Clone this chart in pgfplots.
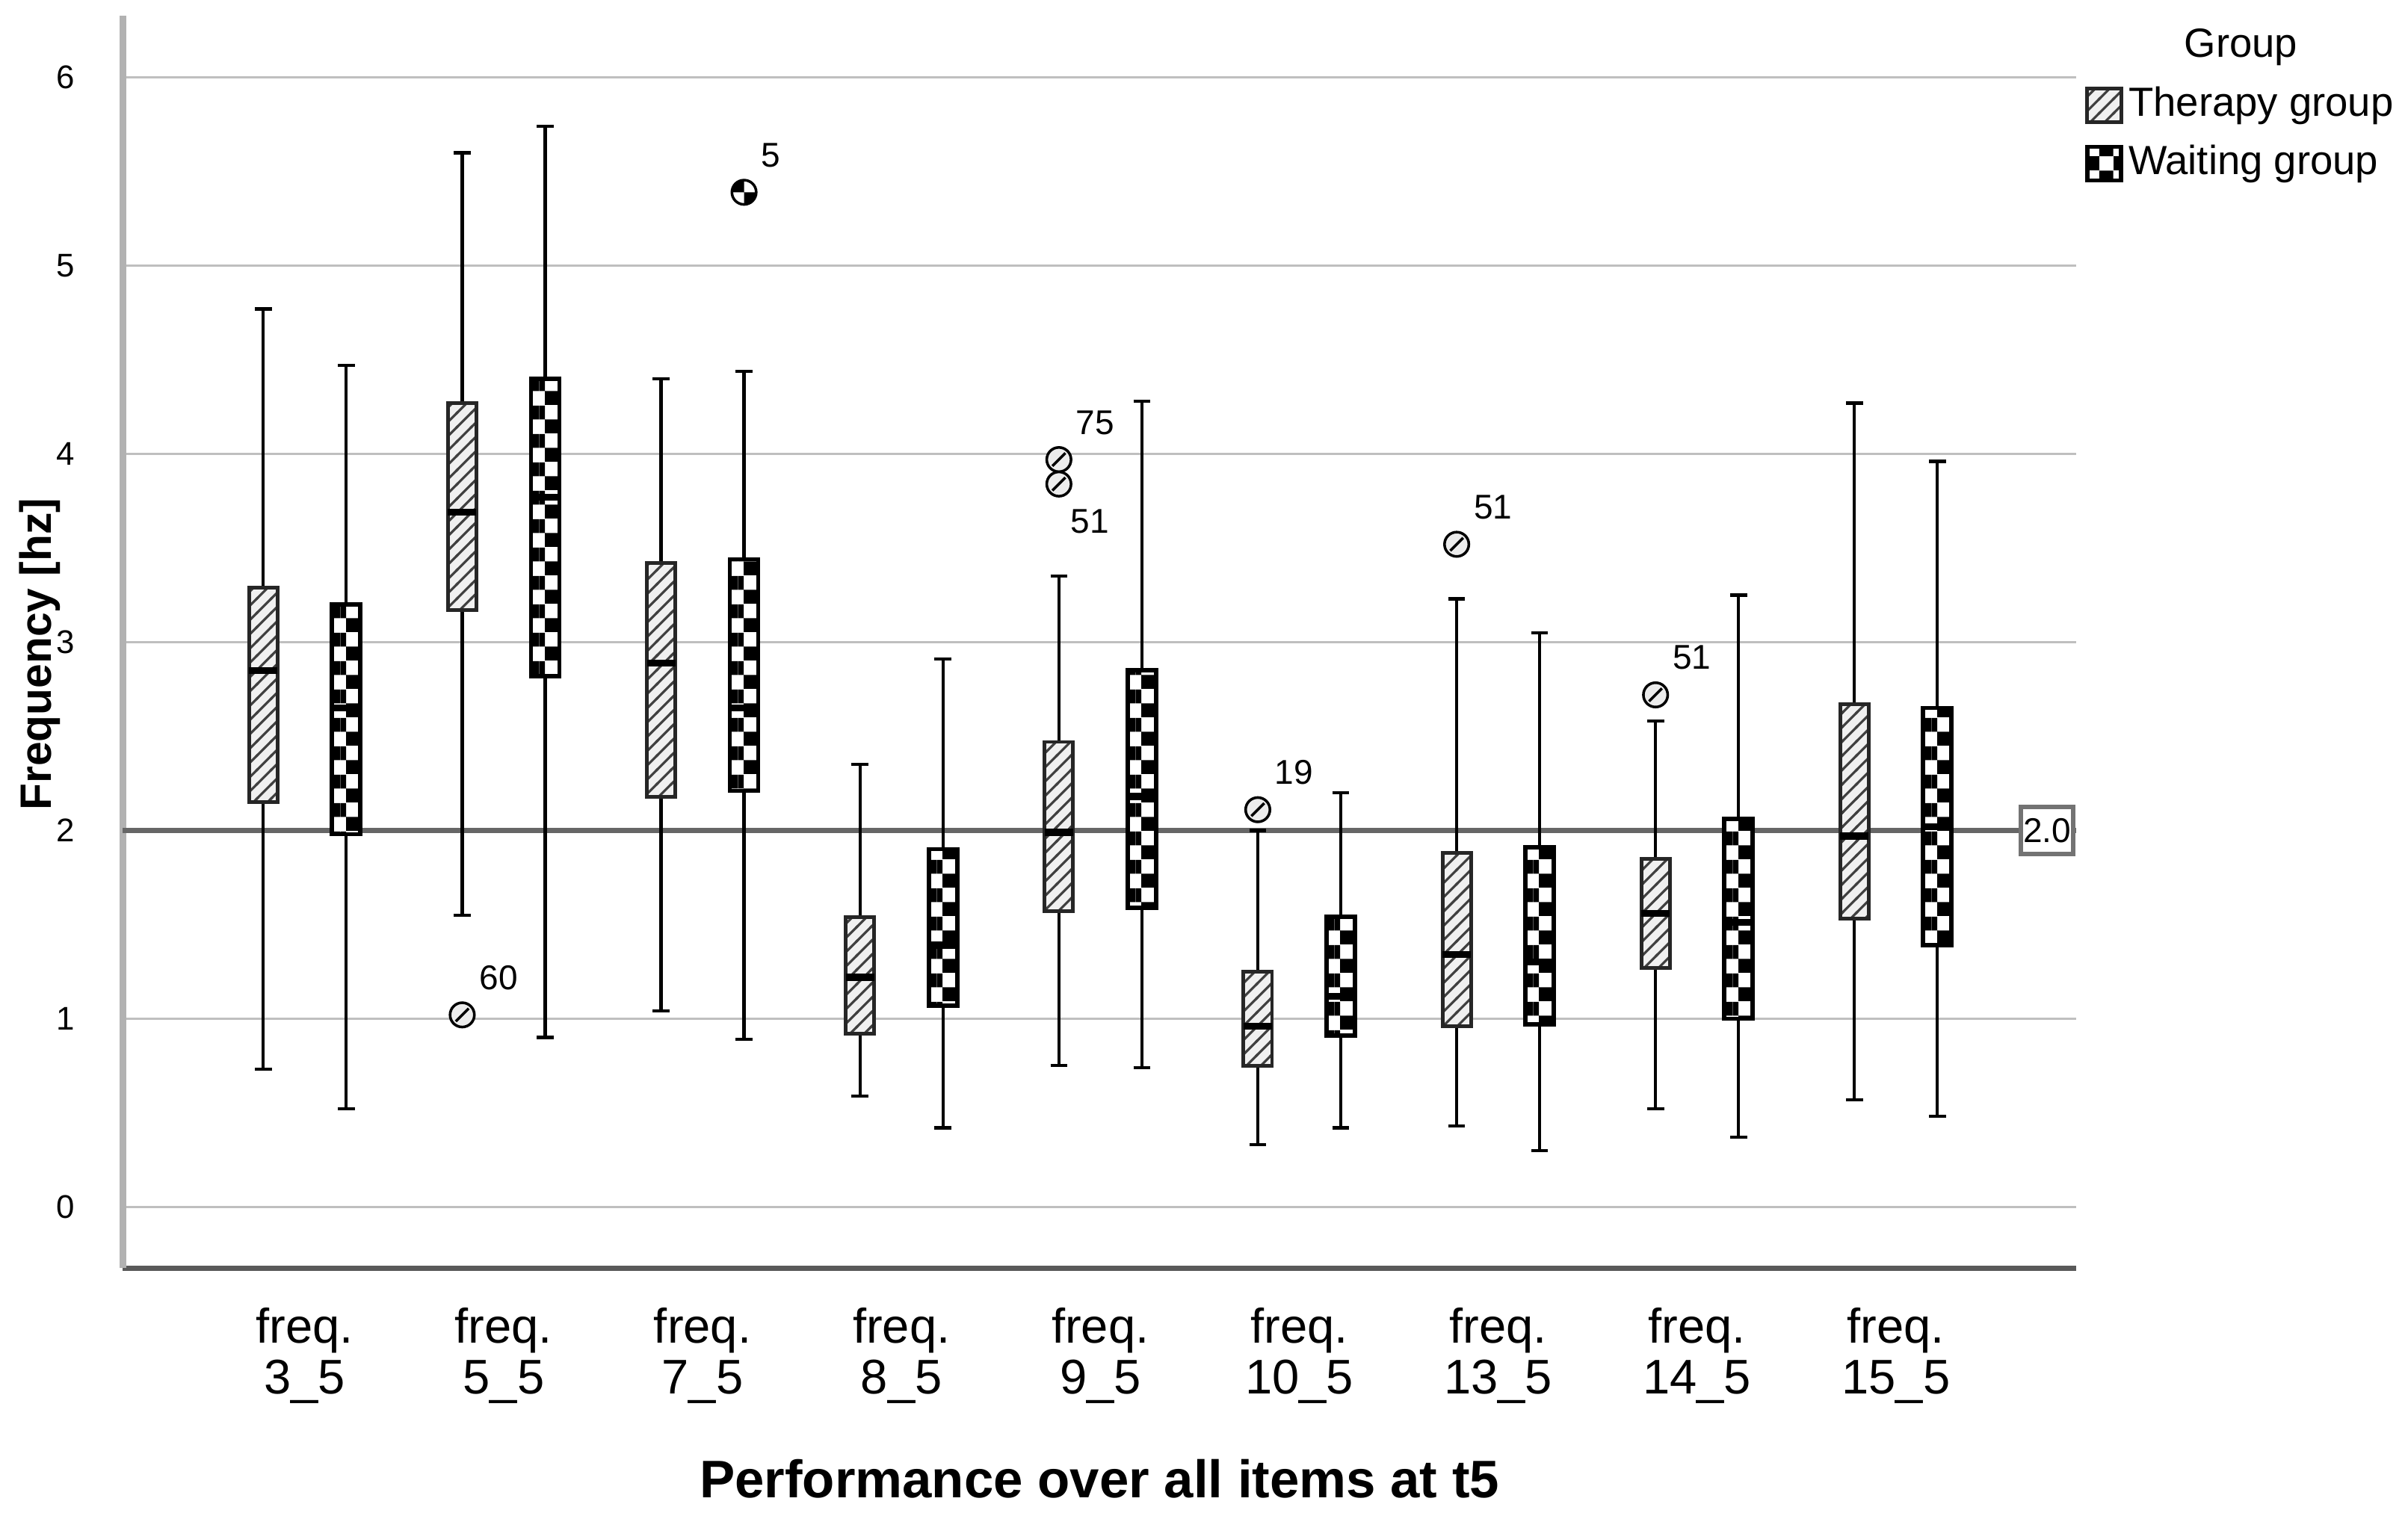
\documentclass[border=0pt]{standalone}
\usepackage{fontspec}
\setmainfont{Liberation Sans}
\usepackage{pgfplots}
\pgfplotsset{compat=1.18}
\usepgfplotslibrary{statistics}
\usetikzlibrary{patterns}

\pgfdeclarepatternformonly{myhatch}{\pgfpoint{-0.5pt}{-0.5pt}}{\pgfpoint{3.2pt}{3.2pt}}{\pgfpoint{2.7pt}{2.7pt}}{%
  \pgfsetlinewidth{0.45pt}%
  \pgfpathmoveto{\pgfpoint{-0.2pt}{-0.2pt}}%
  \pgfpathlineto{\pgfpoint{2.9pt}{2.9pt}}%
  \pgfusepath{stroke}%
}
% checkerboard, tile 5.3716pt, cell 2.6858pt, shifted horizontally by 1.004pt
\pgfdeclarepatternformonly{mycheck}{\pgfpointorigin}{\pgfpoint{5.3716pt}{5.3716pt}}{\pgfpoint{5.3716pt}{5.3716pt}}{%
  \pgfpathrectangle{\pgfpoint{1.004pt}{0pt}}{\pgfpoint{2.6858pt}{2.6858pt}}%
  \pgfpathrectangle{\pgfpoint{0pt}{2.6858pt}}{\pgfpoint{1.004pt}{2.6858pt}}%
  \pgfpathrectangle{\pgfpoint{3.6898pt}{2.6858pt}}{\pgfpoint{1.6818pt}{2.6858pt}}%
  \pgfusepath{fill}%
}
\pgfdeclarepatternformonly{legcheck}{\pgfpointorigin}{\pgfpoint{5.4pt}{5.4pt}}{\pgfpoint{5.4pt}{5.4pt}}{%
  \pgfpathrectangle{\pgfpointorigin}{\pgfpoint{2.7pt}{2.7pt}}%
  \pgfpathrectangle{\pgfpoint{2.7pt}{2.7pt}}{\pgfpoint{2.7pt}{2.7pt}}%
  \pgfusepath{fill}%
}
\pgfdeclareplotmark{hcirc}{%
  \pgfpathcircle{\pgfpointorigin}{\pgfplotmarksize}%
  \pgfusepathqfillstroke
  \pgfpathmoveto{\pgfpointpolar{225}{0.75\pgfplotmarksize}}%
  \pgfpathlineto{\pgfpointpolar{45}{0.75\pgfplotmarksize}}%
  \pgfusepathqstroke
}
\pgfdeclareplotmark{ccirc}{%
  \pgfpathcircle{\pgfpointorigin}{\pgfplotmarksize}%
  \pgfsetfillcolor{white}\pgfusepathqfill
  \pgfpathmoveto{\pgfpointorigin}%
  \pgfpathlineto{\pgfpoint{-\pgfplotmarksize}{0pt}}%
  \pgfpatharc{180}{90}{\pgfplotmarksize}%
  \pgfpathclose
  \pgfpathmoveto{\pgfpointorigin}%
  \pgfpathlineto{\pgfpoint{\pgfplotmarksize}{0pt}}%
  \pgfpatharc{0}{-90}{\pgfplotmarksize}%
  \pgfpathclose
  \pgfsetfillcolor{black}\pgfusepathqfill
  \pgfpathcircle{\pgfpointorigin}{\pgfplotmarksize}%
  \pgfusepathqstroke
}

\pgfplotsset{
  tbox/.style={forget plot, black, solid, line width=0.6pt,
    boxplot/draw direction=y,
    boxplot/box extend=0.142857, boxplot/whisker extend=0.085,
    boxplot/every box/.style={draw=black!85, line width=0.7pt, fill=gray!12, postaction={pattern=myhatch, pattern color=black!75}},
    boxplot/every median/.style={line width=1.3pt, black},
    boxplot/every whisker/.style={black, line width=0.6pt}},
  wbox/.style={forget plot, black, solid, line width=0.6pt,
    boxplot/draw direction=y,
    boxplot/box extend=0.142857, boxplot/whisker extend=0.085,
    boxplot/every box/.style={draw=black, line width=0.8pt, fill=white, postaction={pattern=mycheck, pattern color=black}},
    boxplot/every median/.style={line width=1.3pt, black},
    boxplot/every whisker/.style={black, line width=0.6pt}},
}

\begin{document}
\begin{tikzpicture}
\path[use as bounding box] (-0.816,-1.622) rectangle (15.184,8.429);
\begin{axis}[
  scale only axis, width=12.98cm, height=8.327cm,
  at={(0,0)}, anchor=south west,
  boxplot/draw direction=y,
  xmin=-0.915, xmax=8.907, ymin=-0.326, ymax=6.33,
  enlargelimits=false, clip=false,
  axis x line*=bottom, axis y line*=left,
  x axis line style={-, draw=black!65, line width=1pt},
  y axis line style={-, draw=black!30, line width=1.3pt},
  xtick={0,...,8},
  xticklabels={{freq.\\3\_5},{freq.\\5\_5},{freq.\\7\_5},{freq.\\8\_5},{freq.\\9\_5},{freq.\\10\_5},{freq.\\13\_5},{freq.\\14\_5},{freq.\\15\_5}},
  xticklabel style={align=center, font=\fontsize{9.2}{9.6}\selectfont, yshift=-4pt},
  ytick={0,...,6},
  yticklabel style={font=\fontsize{6.2}{7}\selectfont, xshift=-5.5pt},
  /pgf/number format/assume math mode=true,
  major tick length=0pt,
  ymajorgrids, grid style={draw=black!25, line width=0.5pt},
  xlabel={Performance over all items at t5},
  xlabel style={at={(axis description cs:0.5,-0.168)}, anchor=center, font=\bfseries\fontsize{10}{12}\selectfont},
  ylabel={Frequency [hz]},
  ylabel style={at={(axis description cs:-0.0425,0.49)}, anchor=center, font=\bfseries\fontsize{8.3}{10}\selectfont},
  legend style={draw=none, fill=none, at={(1.004,0.993)}, anchor=north west, font=\fontsize{7.7}{9}\selectfont, inner sep=0pt, row sep=2.6pt, column sep=0.3pt, nodes={inner sep=0.7pt}},
  legend cell align=left,
]
\addlegendimage{empty legend}
\addlegendentry{\hspace*{0.37cm}Group}
\addlegendimage{legend image code/.code={\draw[draw=black!85,line width=0.7pt,fill=gray!12,postaction={pattern=myhatch, pattern color=black!75}] (0cm,-0.112cm) rectangle (0.225cm,0.112cm);}}
\addlegendentry{Therapy group}
\addlegendimage{legend image code/.code={\draw[draw=black,line width=0.8pt,fill=white,postaction={pattern=legcheck}] (0cm,-0.112cm) rectangle (0.225cm,0.112cm);}}
\addlegendentry{Waiting group}

% reference line at 2
\addplot[forget plot, black!60, line width=1.1pt] coordinates {(-0.915,2) (8.907,2)};

% Therapy group
\addplot[tbox, boxplot prepared={draw position=-0.2085, lower whisker=0.73, lower quartile=2.15, median=2.85, upper quartile=3.29, upper whisker=4.77}] coordinates {};
\addplot[tbox, boxplot prepared={draw position=0.7915, lower whisker=1.55, lower quartile=3.17, median=3.69, upper quartile=4.27, upper whisker=5.60}] coordinates {};
\addplot[tbox, boxplot prepared={draw position=1.7915, lower whisker=1.04, lower quartile=2.18, median=2.89, upper quartile=3.42, upper whisker=4.40}] coordinates {};
\addplot[tbox, boxplot prepared={draw position=2.7915, lower whisker=0.59, lower quartile=0.92, median=1.22, upper quartile=1.54, upper whisker=2.35}] coordinates {};
\addplot[tbox, boxplot prepared={draw position=3.7915, lower whisker=0.75, lower quartile=1.57, median=1.99, upper quartile=2.47, upper whisker=3.35}] coordinates {};
\addplot[tbox, boxplot prepared={draw position=4.7915, lower whisker=0.33, lower quartile=0.75, median=0.96, upper quartile=1.25, upper whisker=2.00}] coordinates {};
\addplot[tbox, boxplot prepared={draw position=5.7915, lower whisker=0.43, lower quartile=0.96, median=1.34, upper quartile=1.88, upper whisker=3.23}] coordinates {};
\addplot[tbox, boxplot prepared={draw position=6.7915, lower whisker=0.52, lower quartile=1.27, median=1.56, upper quartile=1.85, upper whisker=2.58}] coordinates {};
\addplot[tbox, boxplot prepared={draw position=7.7915, lower whisker=0.57, lower quartile=1.53, median=1.97, upper quartile=2.67, upper whisker=4.27}] coordinates {};

% Waiting group
\addplot[wbox, boxplot prepared={draw position=0.2085, lower whisker=0.52, lower quartile=1.98, median=2.65, upper quartile=3.20, upper whisker=4.47}] coordinates {};
\addplot[wbox, boxplot prepared={draw position=1.2085, lower whisker=0.90, lower quartile=2.82, median=3.77, upper quartile=4.40, upper whisker=5.74}] coordinates {};
\addplot[wbox, boxplot prepared={draw position=2.2085, lower whisker=0.89, lower quartile=2.21, median=2.65, upper quartile=3.44, upper whisker=4.44}] coordinates {};
\addplot[wbox, boxplot prepared={draw position=3.2085, lower whisker=0.42, lower quartile=1.07, median=1.39, upper quartile=1.90, upper whisker=2.91}] coordinates {};
\addplot[wbox, boxplot prepared={draw position=4.2085, lower whisker=0.74, lower quartile=1.59, median=2.18, upper quartile=2.85, upper whisker=4.28}] coordinates {};
\addplot[wbox, boxplot prepared={draw position=5.2085, lower whisker=0.42, lower quartile=0.91, median=1.12, upper quartile=1.54, upper whisker=2.20}] coordinates {};
\addplot[wbox, boxplot prepared={draw position=6.2085, lower whisker=0.30, lower quartile=0.97, median=1.30, upper quartile=1.91, upper whisker=3.05}] coordinates {};
\addplot[wbox, boxplot prepared={draw position=7.2085, lower whisker=0.37, lower quartile=1.00, median=1.51, upper quartile=2.06, upper whisker=3.25}] coordinates {};
\addplot[wbox, boxplot prepared={draw position=8.2085, lower whisker=0.48, lower quartile=1.39, median=2.02, upper quartile=2.65, upper whisker=3.96}] coordinates {};

% Outliers
\addplot[forget plot, only marks, mark=hcirc, mark size=2.3pt, mark options={draw=black, fill=gray!15, line width=0.5pt},
  nodes near coords, point meta=explicit symbolic,
  every node near coord/.append style={anchor=south west, inner sep=0pt, xshift=3pt, yshift=4.5pt, font=\fontsize{6.5}{7}\selectfont, black}]
  coordinates {(0.7915,1.02) [60] (3.7915,3.97) [75] (4.7915,2.11) [19] (5.7915,3.52) [51] (6.7915,2.72) [51]};
\addplot[forget plot, only marks, mark=hcirc, mark size=2.3pt, mark options={draw=black, fill=gray!15, line width=0.5pt},
  nodes near coords, point meta=explicit symbolic,
  every node near coord/.append style={anchor=north west, inner sep=0pt, xshift=2pt, yshift=-4.5pt, font=\fontsize{6.5}{7}\selectfont, black}]
  coordinates {(3.7915,3.84) [51]};
\addplot[forget plot, only marks, mark=ccirc, mark size=2.3pt, mark options={draw=black, line width=0.5pt},
  nodes near coords, point meta=explicit symbolic,
  every node near coord/.append style={anchor=south west, inner sep=0pt, xshift=3pt, yshift=4.5pt, font=\fontsize{6.5}{7}\selectfont, black}]
  coordinates {(2.2085,5.39) [5]};

\node[draw=black!55, line width=0.8pt, fill=white, inner sep=0.3pt, minimum width=9.9pt, minimum height=8.9pt, font=\fontsize{6.5}{7}\selectfont] at (axis cs:8.76,2) {2.0};
\end{axis}
\end{tikzpicture}
\end{document}
